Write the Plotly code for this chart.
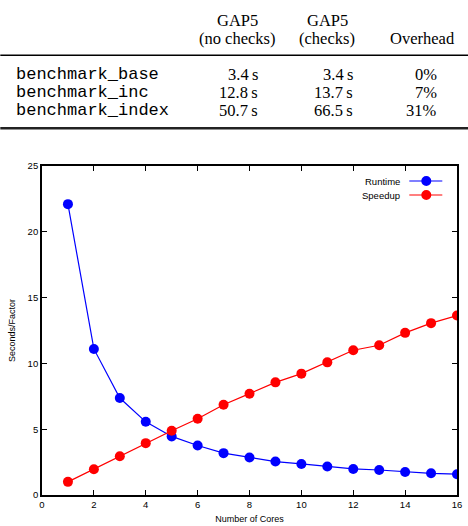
import plotly.graph_objects as go

# ---- data ----
cores = list(range(1, 17))
runtime = [22.1, 11.1, 7.37, 5.56, 4.45, 3.76, 3.18, 2.85, 2.54, 2.36, 2.16, 1.98, 1.90, 1.75, 1.65, 1.58]
speedup = [1.0, 1.96, 2.95, 3.94, 4.88, 5.79, 6.86, 7.70, 8.56, 9.22, 10.08, 11.0, 11.38, 12.32, 13.06, 13.64]

table_header1 = ["GAP5", "GAP5", ""]
table_header2 = ["(no checks)", "(checks)", "Overhead"]
bench_names = ["benchmark_base", "benchmark_inc", "benchmark_index"]
no_checks = ["3.4\u2009s", "12.8\u2009s", "50.7\u2009s"]
checks = ["3.4\u2009s", "13.7\u2009s", "66.5\u2009s"]
overhead = ["0%", "7%", "31%"]

W, H = 468, 526
L, R, T, B = 41.7, 456.7, 165.7, 494.7
PW, PH = R - L, B - T


def px(x):
    return (x - L) / PW


def py(y):
    return (B - y) / PH


fig = go.Figure()
fig.add_trace(go.Scatter(x=cores, y=runtime, mode="lines+markers", name="Runtime",
                         line=dict(color="#0000ff", width=1.2),
                         marker=dict(color="#0000ff", size=10)))
fig.add_trace(go.Scatter(x=cores, y=speedup, mode="lines+markers", name="Speedup",
                         line=dict(color="#ff0000", width=1.2),
                         marker=dict(color="#ff0000", size=10)))

ann = []
shapes = []
serif = "Liberation Serif"
mono = "Liberation Mono"
sans = "Liberation Sans"

# table header
col_centers = [237, 327, 422]
for i in range(3):
    if table_header1[i]:
        ann.append(dict(x=px(col_centers[i]), y=py(20), xref="paper", yref="paper",
                        text=table_header1[i], showarrow=False, xanchor="center", yanchor="middle",
                        font=dict(family=serif, size=16.5, color="#000")))
    ann.append(dict(x=px(col_centers[i]), y=py(38.5), xref="paper", yref="paper",
                    text=table_header2[i], showarrow=False, xanchor="center", yanchor="middle",
                    font=dict(family=serif, size=16.5, color="#000")))

row_y = [74, 92, 110]
for i in range(3):
    ann.append(dict(x=px(14), y=py(row_y[i]), xref="paper", yref="paper",
                    text=bench_names[i], showarrow=False, xanchor="left", yanchor="middle",
                    font=dict(family=mono, size=17, color="#000")))
    ann.append(dict(x=px(260), y=py(row_y[i]), xref="paper", yref="paper",
                    text=no_checks[i], showarrow=False, xanchor="right", yanchor="middle",
                    font=dict(family=serif, size=16.5, color="#000")))
    ann.append(dict(x=px(355), y=py(row_y[i]), xref="paper", yref="paper",
                    text=checks[i], showarrow=False, xanchor="right", yanchor="middle",
                    font=dict(family=serif, size=16.5, color="#000")))
    ann.append(dict(x=px(439), y=py(row_y[i]), xref="paper", yref="paper",
                    text=overhead[i], showarrow=False, xanchor="right", yanchor="middle",
                    font=dict(family=serif, size=16.5, color="#000")))

shapes.append(dict(type="line", xref="paper", yref="paper", x0=px(0), x1=px(468),
                   y0=py(55), y1=py(55), line=dict(color="#000", width=1.5)))
shapes.append(dict(type="line", xref="paper", yref="paper", x0=px(0), x1=px(468),
                   y0=py(128), y1=py(128), line=dict(color="#222", width=2.5)))

# legend (text left, sample right)
leg = [("Runtime", "#0000ff", 180.7), ("Speedup", "#ff0000", 194.7)]
for name, col, yy in leg:
    ann.append(dict(x=px(402), y=py(yy), xref="paper", yref="paper", text=name,
                    showarrow=False, xanchor="right", yanchor="middle",
                    font=dict(family=sans, size=9.5, color="#000")))
    shapes.append(dict(type="line", xref="paper", yref="paper", x0=px(409), x1=px(442),
                       y0=py(yy), y1=py(yy), line=dict(color=col, width=1.2)))
    shapes.append(dict(type="circle", xref="paper", yref="paper", x0=px(421), x1=px(431),
                       y0=py(yy + 5), y1=py(yy - 5), fillcolor=col, line=dict(color=col, width=0)))

fig.update_layout(
    width=W, height=H,
    margin=dict(l=L, r=W - R, t=T, b=H - B, pad=0, autoexpand=False),
    paper_bgcolor="white", plot_bgcolor="white",
    showlegend=False,
    annotations=ann, shapes=shapes,
    font=dict(family=sans, size=9, color="#000"),
)
fig.update_xaxes(range=[0, 16], dtick=2, tick0=0, showgrid=False, zeroline=False,
                 showline=True, linecolor="#000", linewidth=1.8, mirror="ticks",
                 ticks="inside", ticklen=5, tickcolor="#000", tickwidth=1,
                 tickfont=dict(family=sans, size=9.5), automargin=False,
                 title=dict(text="Number of Cores", font=dict(family=sans, size=9), standoff=6))
fig.update_yaxes(range=[0, 25], dtick=5, tick0=0, showgrid=False, zeroline=False,
                 showline=True, linecolor="#000", linewidth=1.8, mirror="ticks",
                 ticks="inside", ticklen=5, tickcolor="#000", tickwidth=1,
                 tickfont=dict(family=sans, size=9.5), automargin=False,
                 title=dict(text="Seconds/Factor", font=dict(family=sans, size=9), standoff=10))

fig.write_html("out.html")
